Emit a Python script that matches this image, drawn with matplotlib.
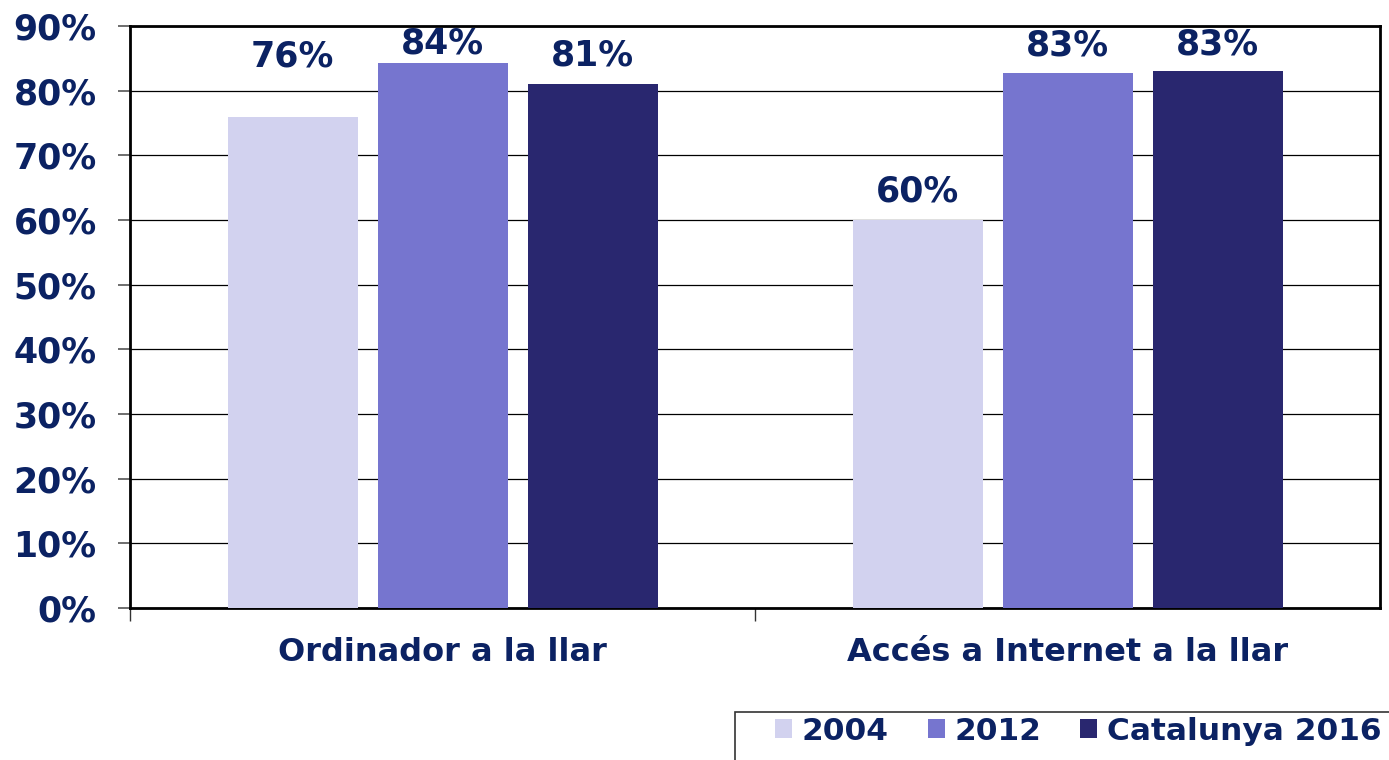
import numpy as np
import matplotlib
matplotlib.use('Agg')
import matplotlib.pyplot as plt
from matplotlib.patches import Patch, Rectangle

# Data
categories = ['Ordinador a la llar', 'Accés a Internet a la llar']
series_names = ['2004', '2012', 'Catalunya 2016']
values_2004 = [0.76, 0.60]
values_2012 = [0.843, 0.828]
values_2016 = [0.81, 0.83]
labels_2004 = ['76%', '60%']
labels_2012 = ['84%', '83%']
labels_2016 = ['81%', '83%']

colors = ['#D2D2EF', '#7675CF', '#29276F']
text_color = '#0B2263'

plt.rcParams['font.family'] = ['DejaVu Sans']
plt.rcParams['font.weight'] = 'bold'

fig = plt.figure(figsize=(13.89, 7.6), dpi=100)
ax = fig.add_axes([130 / 1389, 1 - 608 / 760, 1250 / 1389, 582 / 760])

x = np.arange(len(categories))
width = 0.208
step = 0.24
all_values = [values_2004, values_2012, values_2016]
all_labels = [labels_2004, labels_2012, labels_2016]
# label gap above the bar in pixels (Excel placed a couple of them by hand)
label_gap = [[43, 11], [2, 10], [12, 10]]

for i, (vals, labs) in enumerate(zip(all_values, all_labels)):
    pos = x + (i - 1) * step
    ax.bar(pos, vals, width, color=colors[i], zorder=3)
    for p, v, lab, g in zip(pos, vals, labs, label_gap[i]):
        ax.annotate(lab, (p, v), xytext=(0, g * 0.72), textcoords='offset points',
                    ha='center', va='bottom', fontsize=25, fontweight='bold',
                    color=text_color, zorder=4)

ax.set_xlim(-0.5, 1.5)
ax.set_ylim(0, 0.9)
ax.set_yticks(np.arange(0, 0.91, 0.1))
ax.set_yticklabels([f'{int(round(t * 100))}%' for t in np.arange(0, 0.91, 0.1)],
                   fontsize=25, fontweight='bold', color=text_color)
ax.yaxis.grid(True, color='black', linewidth=0.9, zorder=0)
ax.tick_params(axis='y', length=9, width=1.2, color='#555555', pad=15)

ax.set_xticks([-0.5, 0.5])
ax.set_xticklabels([])
ax.set_xticks(x, minor=True)
ax.set_xticklabels(categories, minor=True, fontsize=23, fontweight='bold', color=text_color)
ax.tick_params(axis='x', which='major', length=9, width=1, color='#333333')
ax.tick_params(axis='x', which='minor', length=0, pad=21)

for s in ax.spines.values():
    s.set_color('black')
    s.set_linewidth(2)

# legend box runs off the right and bottom edge like in the original export
fig.patches.append(Rectangle((735 / 1389, -0.1), 0.6, 1.1 - 712 / 760,
                             transform=fig.transFigure, fill=False,
                             edgecolor='#333333', linewidth=1.2))
handles = [Patch(facecolor=c, edgecolor='none') for c in colors]
leg = fig.legend(handles, series_names, loc='center left',
                 bbox_to_anchor=(775 / 1389, 1 - 731 / 760), ncol=3, frameon=False,
                 handlelength=0.55, handleheight=0.55,
                 handletextpad=0.3, columnspacing=1.25, borderpad=0, borderaxespad=0,
                 prop={'size': 22.5, 'weight': 'bold'})
for t in leg.get_texts():
    t.set_color(text_color)

fig.savefig('out.png', dpi=100)
